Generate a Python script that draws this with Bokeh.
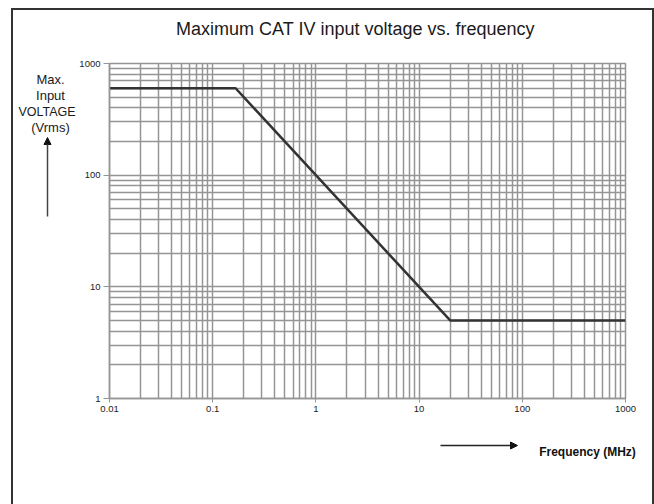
from bokeh.plotting import figure
from bokeh.models import FixedTicker, Label, Arrow, NormalHead, Range1d
from bokeh.layouts import column, row
from bokeh.embed import file_html
from bokeh.resources import INLINE

# ---- data ----
freq_mhz = [0.01, 0.1667, 20, 1000]
volt_rms = [600, 600, 5, 5]

x_ticks = [0.01, 0.1, 1, 10, 100, 1000]
x_tick_labels = ["0.01", "0.1", "1", "10", "100", "1000"]
y_ticks = [1, 10, 100, 1000]
y_tick_labels = ["1", "10", "100", "1000"]

title_text = "Maximum CAT IV input voltage vs. frequency"
y_label_lines = ["Max.", "Input", "VOLTAGE", "(Vrms)"]
x_label_text = "Frequency (MHz)"

FONT = "Liberation Sans"
GRID = "#959595"
EDGE = "#333333"


def minor_of(majors):
    out = []
    for m in majors[:-1]:
        out += [m * k for k in range(2, 10)]
    return out


# ---------- main log-log chart (page x 76..652, y 54..424) ----------
M = figure(x_axis_type="log", y_axis_type="log",
           x_range=Range1d(x_ticks[0], x_ticks[-1]),
           y_range=Range1d(y_ticks[0], y_ticks[-1]),
           width=576, height=370, sizing_mode="fixed",
           min_border_left=33, min_border_right=27,
           min_border_top=9, min_border_bottom=26,
           output_backend="svg", toolbar_location=None)
M.title = None
M.background_fill_color = "white"
M.border_fill_color = "white"
M.outline_line_color = GRID
M.outline_line_width = 1.5

M.xaxis.ticker = FixedTicker(ticks=x_ticks, minor_ticks=minor_of(x_ticks))
M.yaxis.ticker = FixedTicker(ticks=y_ticks, minor_ticks=minor_of(y_ticks))
M.xaxis.major_label_overrides = dict(zip(x_ticks, x_tick_labels))
M.yaxis.major_label_overrides = dict(zip(y_ticks, y_tick_labels))

for ax in (M.xaxis, M.yaxis):
    ax.axis_line_color = GRID
    ax.axis_line_width = 1.5
    ax.major_tick_line_color = GRID
    ax.major_tick_in = 0
    ax.major_tick_out = 4
    ax.minor_tick_out = 0
    ax.minor_tick_in = 0
    ax.major_label_text_font = FONT
    ax.major_label_text_font_size = "9.5px"
    ax.major_label_text_color = "#222222"
    ax.major_label_standoff = 3
M.yaxis.major_tick_out = 6

for g in (M.xgrid, M.ygrid):
    g.grid_line_color = GRID
    g.grid_line_width = 1.5
    g.minor_grid_line_color = GRID
    g.minor_grid_line_width = 1.5

M.line(freq_mhz, volt_rms, line_color="#333333", line_width=2.5)


# ---------- helper panels; their data coordinates are page pixels ----------
def aux(x0, x1, y0, y1, top=0, bottom=0):
    f = figure(width=x1 - x0, height=y1 - y0 + top + bottom, sizing_mode="fixed",
               x_range=Range1d(x0, x1), y_range=Range1d(y1, y0),
               x_axis_location=None, y_axis_location=None,
               min_border_left=0, min_border_right=0,
               min_border_top=top, min_border_bottom=bottom,
               output_backend="svg", toolbar_location=None)
    f.title = None
    f.grid.visible = False
    f.outline_line_color = None
    f.background_fill_color = "white"
    f.border_fill_color = "white"
    return f


def lab(f, text, x, y, size, bold=False, color="#1a1a1a"):
    f.add_layout(Label(x=x, y=y, text=text, text_font=FONT, text_font_size=size,
                       text_font_style="bold" if bold else "normal",
                       text_align="center", text_baseline="middle",
                       text_color=color))


def arrow(f, x0, y0, x1, y1, color):
    f.add_layout(Arrow(x_start=x0, y_start=y0, x_end=x1, y_end=y1,
                       line_color=color, line_width=1.5, start=None,
                       end=NormalHead(size=7, fill_color="#111111", line_color="#111111")))


# title strip: page y 10..54
T = aux(13, 652, 10, 54)
lab(T, title_text, 355, 28, "18px")

# left strip beside the chart: frame aligned with the chart frame (page y 63..398)
L = aux(13, 76, 63, 398, top=9, bottom=26)
label_x = [50, 50, 46.5, 50]
label_size = ["13px", "13px", "12.5px", "13px"]
for i, t in enumerate(y_label_lines):
    lab(L, t, label_x[i], 79 + 16 * i, label_size[i])
arrow(L, 47, 216, 47, 137, "#444444")

# bottom strip: page y 424..504
B = aux(13, 652, 424, 504)
lab(B, x_label_text, 587, 451, "12px", bold=True, color="#111111")
arrow(B, 440, 445, 517, 445, "#222222")

page = column(T, row(L, M), B)
page.styles = {"margin-left": "11px", "margin-top": "8px",
               "border-left": "2px solid " + EDGE,
               "border-top": "2px solid " + EDGE,
               "border-right": "2px solid " + EDGE}

open("out.html", "w").write(file_html(page, INLINE))
